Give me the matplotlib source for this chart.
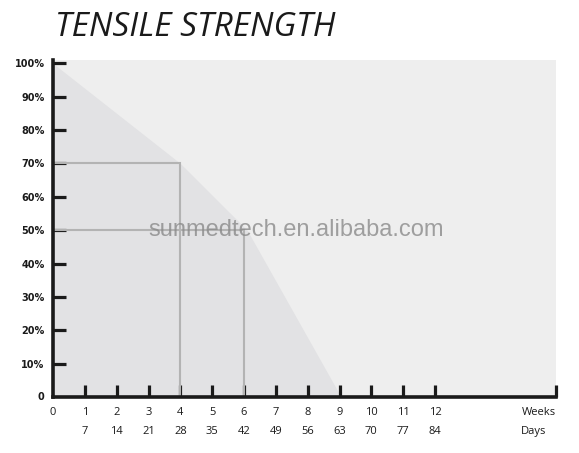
import matplotlib
matplotlib.use("Agg")
import matplotlib.pyplot as plt

# Data
curve_weeks = [0, 4, 6.1, 9.05]
curve_values = [100, 70, 50, 0]
marker_weeks = [4, 6]
marker_values = [70, 50]
week_ticks = list(range(1, 13))
day_labels = [str(7 * w) for w in week_ticks]
y_ticks = list(range(10, 101, 10))
y_labels = [f"{v}%" for v in y_ticks]

fig = plt.figure(figsize=(5.79, 4.53), dpi=100)
ax = fig.add_axes([53 / 579, 1 - 397 / 453, (556 - 53) / 579, (397 - 60) / 453])
xmax = 15.8
ax.set_xlim(0, xmax)
ax.set_ylim(0, 101)
ax.set_facecolor("#eeeeee")

ax.fill_between(curve_weeks, curve_values, 0, color="#e2e2e4", lw=0, zorder=1)

for w, v in zip(marker_weeks, marker_values):
    ax.plot([0, w, w], [v, v, 0], color="#b3b3b3", lw=1.5, zorder=2, solid_joinstyle="miter")

for s in ["top", "right"]:
    ax.spines[s].set_visible(False)
for s in ["left", "bottom"]:
    ax.spines[s].set_linewidth(2.6)
    ax.spines[s].set_color("#1a1a1a")
    ax.spines[s].set_zorder(5)

ax.set_yticks(y_ticks)
ax.set_yticklabels(y_labels)
ax.tick_params(axis="y", direction="in", length=9, width=2.3, color="#1a1a1a",
               labelsize=7, pad=6, labelcolor="#1a1a1a")
for lab in ax.get_yticklabels():
    lab.set_fontweight("bold")
ax.set_xticks(week_ticks + [xmax])
ax.set_xticklabels([])
ax.tick_params(axis="x", direction="in", length=9, width=2.3, color="#1a1a1a")

fs = 8
tc = "#1a1a1a"
r1, r2 = -3.0, -8.7
ax.text(0, r1, "0", ha="center", va="top", fontsize=fs, color=tc, family="Open Sans", clip_on=False)
ax.text(-0.25, 0, "0", ha="right", va="center", fontsize=7, color=tc, family="DejaVu Sans",
        fontweight="bold", clip_on=False)
ax.texts[-1].set_position((-0.28, 0))
for w, d in zip(week_ticks, day_labels):
    ax.text(w, r1, str(w), ha="center", va="top", fontsize=fs, color=tc, family="Open Sans", clip_on=False)
    ax.text(w, r2, d, ha="center", va="top", fontsize=fs, color=tc, family="Open Sans", clip_on=False)
ax.text(xmax, r1, "Weeks", ha="right", va="top", fontsize=fs, color=tc, family="Open Sans", clip_on=False)
ax.text(14.7, r2, "Days", ha="left", va="top", fontsize=fs, color=tc, family="Open Sans", clip_on=False)

fig.text(55 / 579, 1 - 28 / 453, "TENSILE STRENGTH", ha="left", va="center", fontsize=24,
         style="italic", family="Open Sans", color="#1a1a1a")

fig.text(296 / 579, 1 - 230 / 453, "sunmedtech.en.alibaba.com", ha="center", va="center",
         fontsize=17, family="Liberation Sans", color="#8a8a8a", alpha=0.8)

fig.savefig("out.png", dpi=100)
